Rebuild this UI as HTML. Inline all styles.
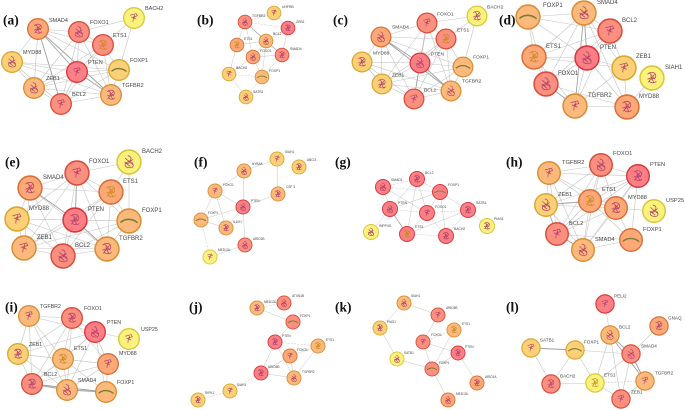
<!DOCTYPE html>
<html>
<head>
<meta charset="utf-8">
<style>
html,body{margin:0;padding:0;background:#fff;}
svg{display:block;}
.lbl{font-family:"Liberation Sans",sans-serif;fill:#444;dominant-baseline:central;}
.tag{font-family:"Liberation Serif",serif;font-weight:bold;font-size:13.5px;fill:#111;dominant-baseline:central;}
</style>
</head>
<body>
<svg id="fig" width="685" height="410" viewBox="0 0 685 410" xmlns="http://www.w3.org/2000/svg">
<rect width="685" height="410" fill="#fff"/>
<g id="net" style="filter:blur(0.22px)"></g>
<g id="tags"></g>
</svg>
<script>
const colors={
 r:['#fb7f85','#d8383c'],
 s:['#fb8f80','#d84e3a'],
 o:['#fca877','#d9703a'],
 l:['#fbba7c','#d98d35'],
 g:['#fbd077','#d9a730'],
 y:['#fbf27e','#d9c53a']
};
const panels=[
{tag:'(a)',tx:3,ty:20,fs:5.5,r:11,
 nodes:[['SMAD4',38,29,'o',49,21],['FOXO1',79,32,'s',90,23],['BACH2',134,18,'y',145,9],['ETS1',103,45,'s',113,36],['MYD88',12,62,'g',23,53],['PTEN',77,72,'r',88,63],['FOXP1',119,70,'g',130,61],['ZEB1',34,88,'l',46,79],['BCL2',61,104,'s',72,95],['TGFBR2',111,95,'l',122,86]],
 edges:'01 03 04 05h 07 08h 09h 06 12 13 15 17 18 19 23 26 35 36 37 38 39 45 46 47 48 49 56 57 58 59h 67 68 69 78 79 89'},
{tag:'(b)',tx:197,ty:20,fs:3.4,r:7.3,
 nodes:[['TGFBR2',245,22,'s',252,16],['UHFRB',274,13,'g',282,7],['ZEB1',288,28,'r',296,22],['BCL2',266,41,'l',273,34],['ETS1',237,45,'o',244,39],['SMAD4',282,55,'s',290,49],['FOXO1',253,57,'o',260,51],['BACH2',229,74,'g',236,68],['FOXP1',262,77,'l',269,71],['SATB1',246,97,'g',253,92]],
 edges:'01d 02d 03h 04 06 12 23 25 34 35h 36 38 46 47 56 58 68 67 78d 79 89d'},
{tag:'(c)',tx:333,ty:20,fs:4.9,r:10.5,
 nodes:[['FOXO1',427,23,'s',437,15],['BACH2',477,16,'y',487,8],['SMAD4',381,37,'o',392,28],['ETS1',446,39,'s',457,31],['MYD88',362,62,'g',373,54],['PTEN',420,63,'r',431,55],['FOXP1',463,67,'l',473,58],['ZEB1',382,84,'g',392,76],['TGFBR2',451,91,'l',462,82],['BCL2',414,99,'s',424,91]],
 edges:'01 03 02 05h 07 08 09 13 16 23 25h 24 26 27 28h 29 35 36 37 38 39 45 47 48 49 56 58h 57 59h 67 68 69 78 79 89'},
{tag:'(d)',tx:499,ty:20,fs:6,r:12.7,
 nodes:[['FOXP1',528,17,'l',543,6],['SMAD4',584,13,'l',597,3],['BCL2',610,31,'s',622,21],['ETS1',534,57,'o',546,47],['PTEN',587,58,'r',600,48],['ZEB1',624,68,'g',636,57],['SIAH1',652,78,'y',665,68],['FOXO1',546,84,'s',558,74],['TGFBR2',575,106,'l',588,96],['MYD88',627,107,'o',639,97]],
 edges:'01 02 03 04 07 12 13 14h 15 17 18h 19 23 24 25 27 28 34 35 37 38 45 47 48 49 58 59 69 78h 79 89'},
{tag:'(e)',tx:5,ty:162,fs:6,r:12.7,
 nodes:[['BACH2',129,162,'y',142,152],['FOXO1',77,173,'s',89,162],['SMAD4',30,188,'o',43,178],['ETS1',111,192,'o',123,182],['MYD88',17,219,'g',29,209],['PTEN',75,220,'r',88,210],['FOXP1',129,221,'l',142,211],['ZEB1',24,248,'l',37,238],['TGFBR2',107,249,'l',119,239],['BCL2',63,256,'s',75,246]],
 edges:'01 03 06 12 13 14 15h 16 17 18 19 23 24 25h 27 28 29 35 36 37 38 39 45 46 47 48 49 56 57 58h 59 67 68 69 78 79 89'},
{tag:'(f)',tx:194,ty:162,fs:3.2,r:7.5,
 nodes:[['SIAH1',277,159,'g',285,152],['ABCI3',299,167,'g',307,160],['NYBAK',244,171,'l',252,164],['FOXO1',215,191,'l',223,185],['CSF 3',278,194,'l',286,187],['PTEN',243,207,'r',251,201],['FOXP1',201,220,'l',208,213],['IL10H',226,228,'l',233,222],['ARID1B',245,245,'s',253,239],['MED13L',210,257,'y',218,250]],
 edges:'02 04 23 25 35 36 37 45 56 57 67 58 69d 89'},
{tag:'(g)',tx:335,ty:162,fs:3.4,r:8,
 nodes:[['BCL2',417,179,'r',425,173],['SMAD1',383,187,'r',391,180],['FOXP1',440,192,'r',448,185],['SATB1',468,210,'r',476,203],['PTEN',390,209,'r',398,203],['FOXO1',427,213,'r',435,207],['PIAS1',487,226,'y',494,219],['INPP4G',371,232,'y',379,226],['ETS1',407,234,'r',415,227],['BACH2',446,236,'r',454,229]],
 edges:'01d 02 05 04 08 12d 14 15 23 25 35d 36 38 39 45d 48h 47 58 59 89d 29 24'},
{tag:'(h)',tx:506,ty:162,fs:5.7,r:12,
 nodes:[['FOXO1',601,165,'s',613,154],['TGFBR2',549,173,'l',562,163],['PTEN',638,176,'r',650,165],['ZEB1',546,205,'g',558,195],['ETS1',590,201,'o',602,190],['MYD88',616,208,'o',628,198],['USP25',654,211,'y',666,201],['BCL2',557,234,'s',569,224],['FOXP1',631,240,'o',643,230],['SMAD4',583,250,'l',595,240]],
 edges:'01 02 03 04 05 07 09 12 13 14 15 17 19 23 24 25 27 29 28 34h 35 37h 39 45 47 48 49 56 58 57 59 78 79h 89'},
{tag:'(i)',tx:5,ty:307,fs:5.3,r:11,
 nodes:[['TGFBR2',29,316,'l',40,307],['FOXO1',72,318,'s',84,309],['PTEN',95,332,'r',107,323],['USP25',129,339,'y',141,330],['ZEB1',18,354,'g',29,345],['ETS1',63,359,'l',74,349],['MYD88',108,364,'o',119,354],['BCL2',32,384,'s',44,375],['SMAD4',67,390,'l',78,381],['FOXP1',106,392,'l',117,383]],
 edges:'01 02 04 05 07 08 12 14 15 16 17 18 23 24 25 26 27 28 29 45 46 47 48 56 57 58 59 67 68 69 78h 79h 89h'},
{tag:'(j)',tx:189,ty:307,fs:3.2,r:7.5,
 nodes:[['MED13L',257,308,'l',264,302],['ATXN1B',284,303,'s',292,296],['FOXP1',293,322,'s',300,316],['PTEN',275,342,'r',282,336],['ETS1',318,346,'l',326,340],['FOXO1',290,356,'o',297,350],['ARID5B',261,373,'r',268,367],['TGFBR2',294,378,'l',302,372],['SIAH1',230,391,'g',237,385],['RIPK1',198,400,'g',205,393]],
 edges:'01d 02 23 36 34d 35 45 47 56 57 67 37 68d 89d'},
{tag:'(k)',tx:335,ty:307,fs:3.2,r:7.5,
 nodes:[['SIAH1',404,303,'l',411,296],['ARID5B',438,315,'s',446,308],['PIAS1',380,328,'g',387,322],['ETS1',454,330,'l',462,324],['FOXO1',423,342,'s',431,335],['PTEN',458,353,'r',465,347],['SATB1',397,359,'y',404,353],['FOXP1',432,369,'s',439,363],['ARID1A',477,383,'o',485,377],['MED13L',448,400,'o',456,394]],
 edges:'01 02 26 14 34d 37 45 47 57 67 58 79'},
{tag:'(l)',tx:506,ty:307,fs:4.6,r:9.7,
 nodes:[['PELI2',605,304,'r',614,296],['GNAQ',659,326,'o',668,318],['BCL2',610,335,'l',619,327],['SATB1',531,348,'g',540,340],['FOXP1',575,350,'g',584,342],['SMAD4',631,354,'s',641,346],['TGFBR2',645,381,'l',655,373],['BACH2',551,384,'s',560,376],['ETS1',595,383,'y',604,375],['ZEB1',621,399,'s',631,392]],
 edges:'02 15 25h 26h 28 29 34h 37 45 47 48 56h 58 59 69 78 68d 89'}
];
const NS='http://www.w3.org/2000/svg';
const net=document.getElementById('net');
const tags=document.getElementById('tags');
const glyphs=[
 'M-.35 -.3C-.1 -.55 .3 -.45 .3 -.15S-.2 0 -.2 .2 .2 .45 .35 .25M-.1 -.2L.15 .4M-.35 .1L.1 -.1M-.2 -.4L.25 .1M-.3 .35L.2 -.3',
 'M-.1 -.5C.3 -.4 .2 -.1 -.1 0S-.4 .4 0 .45 .4 .2 .2 0M-.3 -.3L.3 .2M-.2 .1C0 .2 .1 -.1 .3 -.2M-.35 0L.1 .35',
 'M-.35 -.25L.2 -.4 .3 -.2 -.05 -.1 -.1 .35M.05 -.3L.05 .05M-.25 -.1L.2 .1'
];
function mk(tag,parent){
 const e=document.createElementNS(NS,tag);
 parent.appendChild(e);
 return e;
}
panels.forEach(function(p,pi){
 const group=mk('g',net);
 
 
 p.edges.split(' ').forEach(function(tok){
  const a=p.nodes[+tok[0]],b=p.nodes[+tok[1]],k=tok[2];
  const l=mk('line',group);
  
  
  l.setAttribute('x1',a[1]);l.setAttribute('y1',a[2]);
  l.setAttribute('x2',b[1]);l.setAttribute('y2',b[2]);
  l.setAttribute('stroke',k==='h'?'#a0a0a0':'#c4c4c4');
  l.setAttribute('stroke-width',k==='h'?(p.r>9?.9:.7):(p.r>9?.6:.5));
  if(k==='d')l.setAttribute('stroke-dasharray','2 1.2');
 });
 p.nodes.forEach(function(n,ni){
  const g=mk('g',group);
  
  
  const c=mk('circle',g);
  
  
  c.setAttribute('cx',n[1]);c.setAttribute('cy',n[2]);c.setAttribute('r',p.r-p.r*.06);
  c.setAttribute('fill',colors[n[3]][0]);
  c.setAttribute('stroke',colors[n[3]][1]);
  c.setAttribute('stroke-width',p.r*.12);
  const s=mk('path',g);
  
  
  s.setAttribute('fill','none');
  s.setAttribute('transform','translate('+n[1]+' '+n[2]+') scale('+p.r+')');
  s.setAttribute('stroke-width',p.r>9?.06:.08);
  if(n[0]==='FOXP1'){
   s.setAttribute('d','M-.68 .12C-.3 -.22 .25 -.22 .68 .14');
   s.setAttribute('stroke','#7a7d35');
   s.setAttribute('stroke-width',.12);
  }else if(n[0]==='ETS1'){
   s.setAttribute('d',glyphs[0]);
   s.setAttribute('stroke','#c98a20');
  }else{
   s.setAttribute('d',glyphs[(ni+pi)%3]);
   s.setAttribute('stroke','#b04068');
  }
  const t=mk('text',group);
  t.setAttribute('class','lbl');
  
  
  t.setAttribute('x',n[4]);t.setAttribute('y',n[5]);
  t.setAttribute('font-size',p.fs);
  t.textContent=n[0];
 });
 const tg=mk('text',tags);
 tg.setAttribute('class','tag');
 
 
 tg.setAttribute('x',p.tx);tg.setAttribute('y',p.ty);
 tg.textContent=p.tag;
});
</script>
</body>
</html>
